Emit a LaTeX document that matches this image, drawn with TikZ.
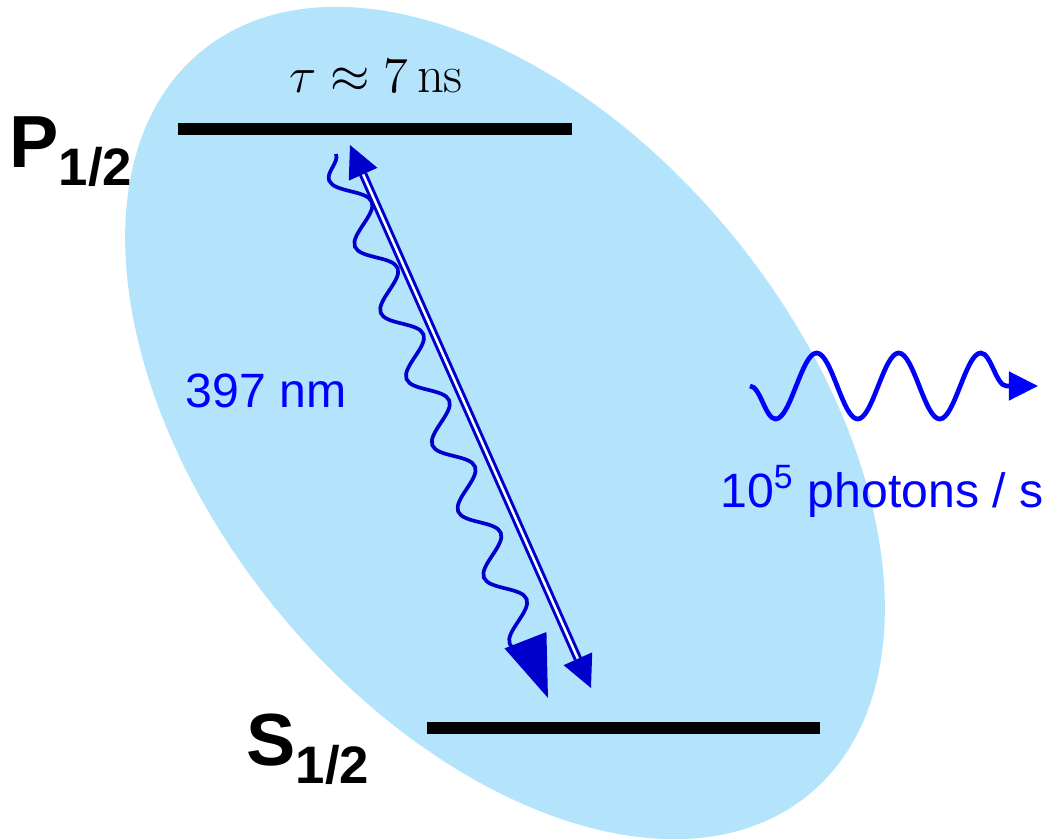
\documentclass[tikz,border=0pt]{standalone}
\usepackage{fontspec}
\usepackage{amsmath}
\usetikzlibrary{arrows.meta,decorations.pathmorphing}
\newfontfamily\labfont{Liberation Sans}
\definecolor{cloud}{RGB}{180,228,252}
\definecolor{pumpblue}{RGB}{0,0,205}
\newcommand{\term}[2]{{\fontsize{21}{25}\selectfont\bfseries #1}\raisebox{-0.18cm}{\fontsize{15}{18}\selectfont\bfseries #2}}

\begin{document}
\begin{tikzpicture}[
  x=0.01cm, y=-0.01cm,
  level/.style={line width=0.12cm, black},
  lvlab/.style={font=\labfont, inner sep=0pt, anchor=base west},
  lab/.style={font=\labfont\fontsize{13.7}{16}\selectfont, text=blue, inner sep=0pt, anchor=base},
  laser/.style={pumpblue, line width=0.037cm, decorate,
    decoration={snake, mirror, amplitude=0.16cm, segment length=0.71cm, post length=0.2cm},
    -{Triangle[length=0.62cm, width=0.44cm]}},
  rail/.style={pumpblue, line width=0.03cm, double=white, double distance=0.025cm},
  railtip/.style={pumpblue, -{Triangle[length=0.32cm, width=0.31cm]}},
  emit/.style={blue, line width=0.047cm, decorate,
    decoration={snake, mirror, amplitude=0.33cm, segment length=0.82cm, post length=0.1cm},
    -{Triangle[length=0.29cm, width=0.28cm]}}
]
\useasboundingbox (0,0) rectangle (1047,839);

% ion cloud
\fill[cloud, rotate around={-50.8:(505,423)}] (505,423) ellipse [x radius=480, y radius=295];

% levels
\coordinate (pl) at (178,129);
\coordinate (pr) at (572,129);
\coordinate (sl) at (427,728);
\coordinate (sr) at (820,728);
\draw[level] (pl) -- (pr);
\draw[level] (sl) -- (sr);

\node[lvlab] (plab) at (9,167) {\term{P}{1/2}};
\node[lvlab] (slab) at (246,765) {\term{S}{1/2}};
\node[font=\fontsize{15}{18}\selectfont, inner sep=0pt, anchor=base] (tau) at (376,92) {$\tau \approx 7\,\mathrm{ns}$};

% transition
\coordinate (wtop) at (336,154);
\coordinate (wtip) at (548,698);
\draw[laser] (wtop) -- (wtip);

\coordinate (dtop) at (350,145);
\coordinate (dtopb) at (363,174);
\coordinate (dbot) at (591,688);
\coordinate (dbotb) at (578,659);
\draw[rail] (dtopb) -- (dbotb);
\draw[railtip] (dtopb) -- (dtop);
\draw[railtip] (dbotb) -- (dbot);

\node[lab] (wl) at (266,407) {397 nm};

% fluorescence
\coordinate (ptail) at (750,386);
\coordinate (phead) at (1038,386);
\draw[emit] (ptail) -- (phead);
\node[lab] (rate) at (882,507) {10\textsuperscript{5} photons / s};
\end{tikzpicture}
\end{document}
